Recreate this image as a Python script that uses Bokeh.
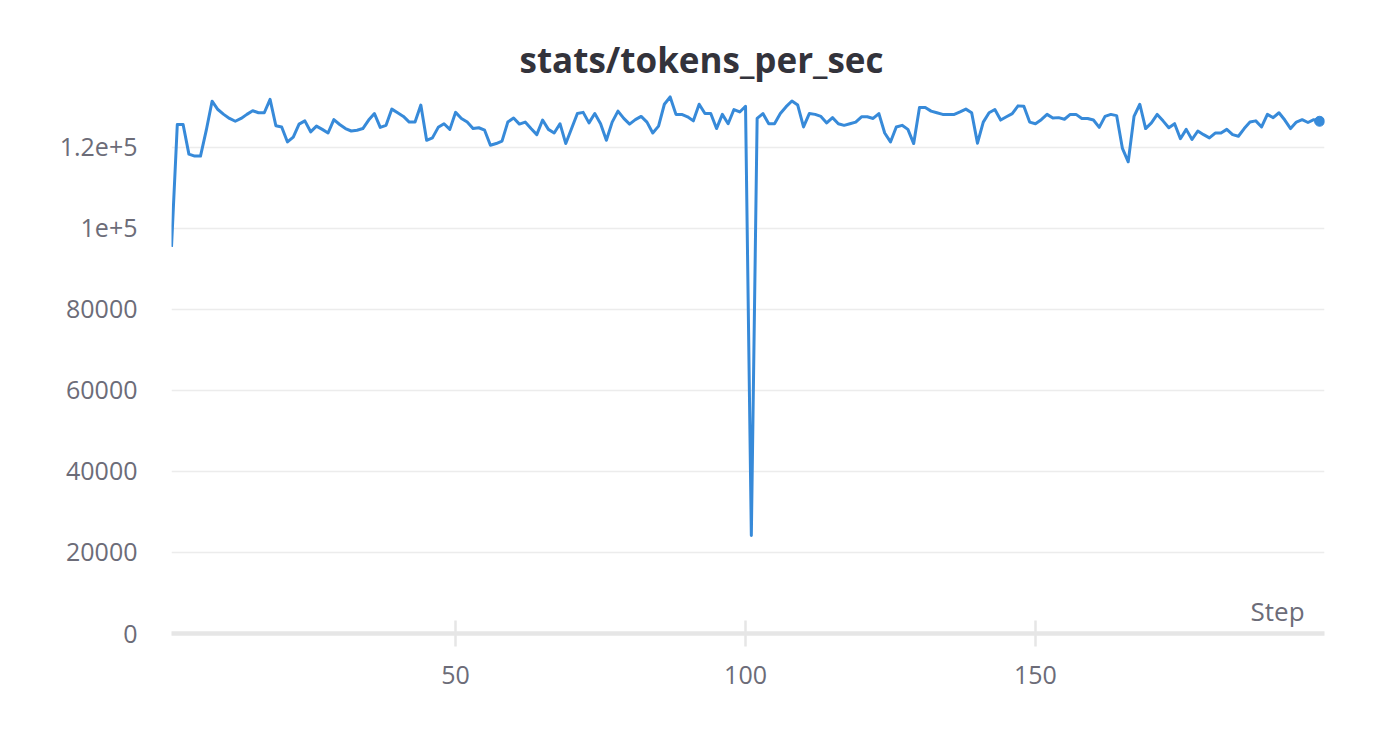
from bokeh.plotting import figure
from bokeh.models import Label, FixedTicker, ColumnDataSource, Range1d
from bokeh.embed import file_html
from bokeh.resources import INLINE

title_text = "stats/tokens_per_sec"
x_label = "Step"

steps = list(range(1, 200))
tokens_per_sec = [
    95400, 125600, 125600, 118300, 117800, 117800, 124200, 131350, 129300, 128100,
    127100, 126400, 127100, 128100, 129000, 128500, 128500, 131800, 125300, 125000,
    121300, 122500, 125700, 126500, 123800, 125200, 124400, 123500, 126800, 125600,
    124600, 124000, 124200, 124600, 126700, 128300, 124900, 125400, 129400, 128500,
    127600, 126200, 126200, 130400, 121700, 122300, 124900, 125800, 124400, 128600,
    127100, 126200, 124600, 124800, 124200, 120500, 120900, 121500, 126200, 127200,
    125700, 126200, 124600, 123100, 126700, 124400, 123500, 125800, 120900, 124600,
    128300, 128600, 126000, 128300, 125800, 121700, 126200, 128900, 127100, 125700,
    126800, 127600, 126200, 123500, 125200, 130600, 132400, 128100, 128100, 127500,
    126500, 130600, 128300, 128300, 124600, 128100, 125800, 129300, 128700, 130100,
    24200, 127100, 128300, 125800, 125800, 128300, 130000, 131400, 130400, 125000,
    128300, 128100, 127600, 126000, 127300, 125800, 125400, 125800, 126200, 127500,
    127500, 127100, 128300, 123500, 121300, 125000, 125400, 124400, 120900, 129800,
    129800, 128900, 128500, 128100, 128100, 128100, 128700, 129400, 128500, 121000,
    126200, 128500, 129300, 126700, 127500, 128300, 130200, 130100, 126200, 125800,
    126800, 128100, 127200, 127300, 126900, 128100, 128100, 127100, 127100, 126700,
    124900, 127600, 128100, 127800, 119700, 116400, 127600, 130600, 124600, 126000,
    128100, 126500, 124800, 125800, 122100, 124400, 121900, 124000, 123100, 122300,
    123500, 123500, 124400, 123100, 122700, 124600, 126200, 126500, 125000, 128100,
    127300, 128500, 126700, 124600, 126200, 126800, 126100, 126800, 126400,
]

x_ticks = [50, 100, 150]
y_ticks = [0, 20000, 40000, 60000, 80000, 100000, 120000]
y_tick_labels = ["0", "20000", "40000", "60000", "80000", "1e+5", "1.2e+5"]

FONT = "Open Sans"
LINE_COLOR = "#378ad9"
TICK_COLOR = "#6c6c78"

src = ColumnDataSource(data=dict(x=steps, y=tokens_per_sec))

p = figure(
    width=1384, height=719,
    output_backend="svg", toolbar_location=None,
    x_range=Range1d(1, 199.85), y_range=Range1d(0, 133500),
    min_border_left=171, min_border_right=60,
    min_border_top=92, min_border_bottom=86,
)
p.outline_line_color = None
p.background_fill_color = "white"
p.border_fill_color = "white"

p.title.text = title_text
p.title.align = "left"
p.title.text_font = FONT
p.title.text_font_size = "35px"
p.title.text_font_style = "bold"
p.title.text_color = "#33333b"
p.title.offset = 348
p.title.standoff = 19

p.line("x", "y", source=src, line_color=LINE_COLOR, line_width=3, line_join="round")
p.scatter([steps[-1]], [tokens_per_sec[-1]], size=10, color=LINE_COLOR)

# x axis
xa = p.xaxis[0]
xa.ticker = FixedTicker(ticks=x_ticks)
xa.axis_line_color = "#e6e6e6"
xa.axis_line_width = 4.5
xa.major_tick_line_color = "#e6e6e6"
xa.major_tick_line_width = 2.5
xa.major_tick_in = 13
xa.major_tick_out = 13
xa.minor_tick_line_color = None
xa.major_label_text_font = FONT
xa.major_label_text_font_size = "25px"
xa.major_label_text_color = TICK_COLOR
xa.major_label_standoff = 19

# y axis
ya = p.yaxis[0]
ya.ticker = FixedTicker(ticks=y_ticks)
ya.major_label_overrides = {float(t): s for t, s in zip(y_ticks, y_tick_labels)}
ya.axis_line_color = None
ya.major_tick_line_color = None
ya.minor_tick_line_color = None
ya.major_tick_in = 0
ya.major_tick_out = 0
ya.major_label_text_font = FONT
ya.major_label_text_font_size = "25px"
ya.major_label_text_color = TICK_COLOR
ya.major_label_standoff = 34

p.xgrid.grid_line_color = None
p.ygrid.ticker = FixedTicker(ticks=y_ticks)
p.ygrid.grid_line_color = "#ececec"
p.ygrid.grid_line_width = 1.5

p.add_layout(Label(
    x=199, y=0, text=x_label, text_align="right", text_baseline="middle",
    x_offset=-15, y_offset=23, text_font=FONT, text_font_size="26px",
    text_color=TICK_COLOR,
))

open("out.html", "w").write(file_html(p, INLINE))
